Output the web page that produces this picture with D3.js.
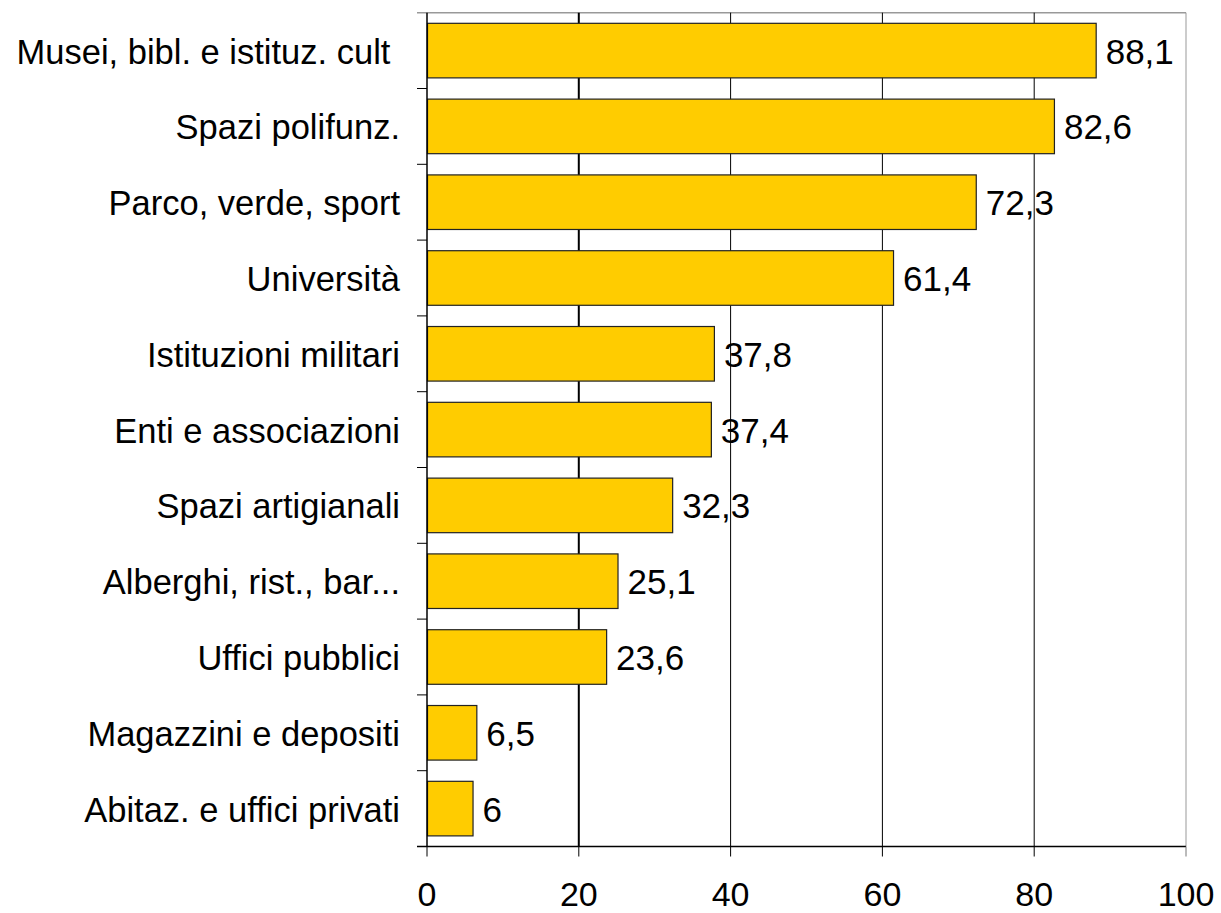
<!DOCTYPE html>
<html>
<head>
<meta charset="utf-8">
<script src="https://cdn.jsdelivr.net/npm/d3@7"></script>
<style>
  body { margin: 0; background: #fff; }
  text { font-family: Arial, "Liberation Sans", sans-serif; fill: #000; }
</style>
</head>
<body>
<div class="chart"></div>
<script>
// categories, top to bottom
const categories = [
    "Musei, bibl. e istituz. cult ",
    "Spazi polifunz.",
    "Parco, verde, sport",
    "Università",
    "Istituzioni militari",
    "Enti e associazioni",
    "Spazi artigianali",
    "Alberghi, rist., bar...",
    "Uffici pubblici",
    "Magazzini e depositi",
    "Abitaz. e uffici privati"
];
const values = [88.1, 82.6, 72.3, 61.4, 37.8, 37.4, 32.3, 25.1, 23.6, 6.5, 6];
const xTicks = [0, 20, 40, 60, 80, 100];

const W = 1221, H = 913;
// plot area edges
const plotL = 427, plotR = 1186, plotT = 12.7, plotB = 846.5;

const svg = d3.select(".chart")
    .append("svg")
        .attr("width", W)
        .attr("height", H);

const x = d3.scaleLinear().domain([0, 100]).range([plotL, plotR]);
const y = d3.scaleBand()
    .domain(categories)
    .range([plotT, plotB])
    .paddingInner(0.28)
    .paddingOuter(0.14);

// top border
svg.append("line")
    .attr("x1", plotL - 10).attr("x2", plotR)
    .attr("y1", plotT).attr("y2", plotT)
    .attr("stroke", "#999").attr("stroke-width", 1.5);

// vertical gridlines
svg.selectAll("line.grid")
    .data(xTicks.slice(1))
    .join("line")
        .attr("class", "grid")
        .attr("x1", d => x(d)).attr("x2", d => x(d))
        .attr("y1", plotT).attr("y2", plotB)
        .attr("stroke", d => d === 100 ? "#999" : "#000")
        .attr("stroke-width", d => d === 20 ? 2 : 1);

// bars
svg.selectAll("rect.bar")
    .data(values)
    .join("rect")
        .attr("class", "bar")
        .attr("x", x(0) + 0.5)
        .attr("y", (d, i) => y(categories[i]))
        .attr("width", d => x(d) - x(0))
        .attr("height", y.bandwidth())
        .attr("fill", "#FFCC00")
        .attr("stroke", "#222")
        .attr("stroke-width", 1.2);

// value labels
svg.selectAll("text.val")
    .data(values)
    .join("text")
        .attr("class", "val")
        .attr("x", d => x(d) + 10)
        .attr("y", (d, i) => y(categories[i]) + y.bandwidth() / 2 + 13)
        .attr("font-size", 35)
        .text(d => String(d).replace(".", ","));

// left axis
const yAxis = svg.append("g");
yAxis.append("line")
    .attr("x1", plotL).attr("x2", plotL)
    .attr("y1", plotT).attr("y2", plotB)
    .attr("stroke", "#000").attr("stroke-width", 1.5);
const bounds = categories.map(c => y(c) - y.step() * y.paddingInner() / 2).slice(1);
yAxis.selectAll("line.tick")
    .data(bounds)
    .join("line")
        .attr("class", "tick")
        .attr("x1", plotL - 10).attr("x2", plotL)
        .attr("y1", d => d).attr("y2", d => d)
        .attr("stroke", "#000").attr("stroke-width", 1);
yAxis.selectAll("text")
    .data(categories)
    .join("text")
        .attr("x", 400)
        .attr("y", d => y(d) + y.bandwidth() / 2 + 13)
        .attr("text-anchor", "end")
        .attr("font-size", 34.5)
        .attr("xml:space", "preserve")
        .style("white-space", "pre")
        .text(d => d);

// bottom axis
const xAxis = svg.append("g");
xAxis.append("line")
    .attr("x1", plotL - 10).attr("x2", plotR)
    .attr("y1", plotB).attr("y2", plotB)
    .attr("stroke", "#000").attr("stroke-width", 1.5);
xAxis.selectAll("line.tick")
    .data(xTicks)
    .join("line")
        .attr("class", "tick")
        .attr("x1", d => x(d)).attr("x2", d => x(d))
        .attr("y1", plotB).attr("y2", plotB + 10)
        .attr("stroke", d => d === 100 ? "#777" : "#000");
xAxis.selectAll("text")
    .data(xTicks)
    .join("text")
        .attr("x", d => x(d))
        .attr("y", 906)
        .attr("text-anchor", "middle")
        .attr("font-size", 34)
        .text(d => d);
</script>
</body>
</html>
